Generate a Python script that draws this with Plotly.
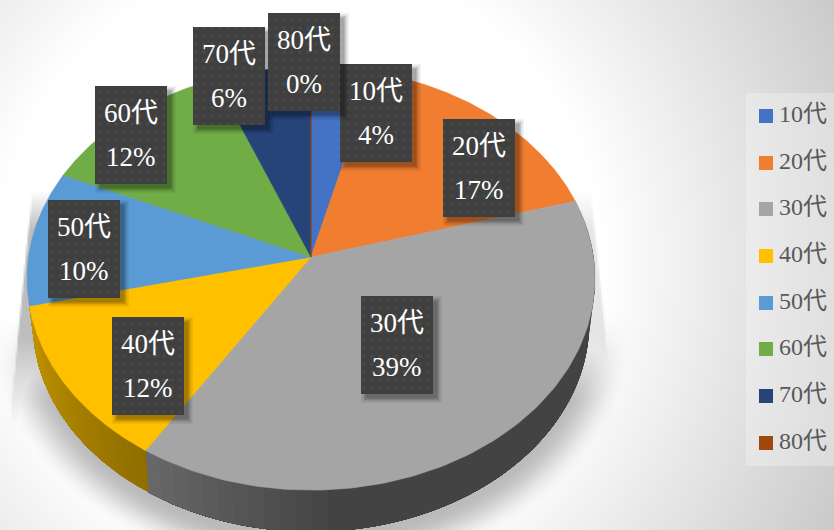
import numpy as np
import plotly.graph_objects as go

# Survey share by age group
categories = ["10代", "20代", "30代", "40代", "50代", "60代", "70代", "80代"]
percents = [4, 17, 39, 12, 10, 12, 6, 0]
colors = ["#4472C4", "#F07D30", "#A5A5A5", "#FFC000", "#5B9BD5", "#70AD47", "#264478", "#9E480E"]

# Top-left corner of each data label box, in page pixels
label_left = [340, 443, 361, 112, 48, 95, 193, 268]
label_top = [64, 119, 296, 317, 200, 86, 27, 13]
LABEL_W, LABEL_H = 72, 98

legend_y = [116, 163, 209, 256, 303, 349, 396, 443]

W, H = 834, 530
CX, APEX_Y = 311, 257
RX, RY, TILT, SKEW = 282.5, 209.4, 0.1018, 0.07
WALL_DROP, WALL_SX, WALL_SY = 44, 0.98, 0.99


def rim(theta, drop=0.0, sx=1.0, sy=1.0):
    """Project a rim angle (clockwise from 12 o'clock) onto the tilted disc."""
    view = theta - SKEW * (1 - np.cos(theta)) / 2
    w = 1 + TILT * np.cos(view)
    return CX + RX * sx * np.sin(view) / w, APEX_Y + drop - RY * sy * np.cos(view) / w


def backdrop():
    """Grey vignette with the soft shadow cast under the pie."""
    xs = np.arange(0, W + 2, 2.0)
    ys = np.arange(0, H + 2, 2.0)
    gx, gy = np.meshgrid(xs, ys)
    dist = np.hypot(gx - 300, gy - 260)
    base = 255 - np.clip(dist - 300, 0, None) * 0.18

    # Tall wedge of shade on either side of the disc, heavier on the left
    t = np.clip((gy - 200) / 200, 0, 1)
    left = 30 - 20 * t
    right = 592 + 21 * t
    fade = np.clip((gy - 190) / 40, 0, 1) * np.clip((425 - gy) / 90, 0, 1)
    side_l = np.clip((gx - left) / 2, 0, 1) * (gx < CX)
    side_r = np.clip((right - gx) / 2, 0, 1) * (gx >= CX)
    shade_side = (0.26 * side_l + 0.1 * side_r) * fade

    # Blurred ellipse below the wall, only on the lower half of the disc
    q = np.hypot((gx - CX) / 272, (gy - 322) / 214)
    sd = (q - 1) * 240
    u = np.clip(1 - sd / 46, 0, 1)
    shade_round = 0.27 * u * u * (3 - 2 * u) * np.clip((gy - 320) / 80, 0, 1)

    return xs, ys, base * (1 - np.maximum(shade_side, shade_round))


def mix(c0, c1, f):
    a = np.array([int(c0[i:i + 2], 16) for i in (1, 3, 5)])
    b = np.array([int(c1[i:i + 2], 16) for i in (1, 3, 5)])
    r, g, bl = np.round(a + (b - a) * f).astype(int)
    return f"rgb({r},{g},{bl})"


def polygon(fig, xs, ys, color, line=0.6, **extra):
    fig.add_trace(go.Scatter(
        x=xs, y=ys, mode="lines", fill="toself", fillcolor=color,
        line=dict(color=color, width=line), hoverinfo="skip", showlegend=False, **extra))


fig = go.Figure()

bg_x, bg_y, bg_z = backdrop()
fig.add_trace(go.Heatmap(
    x=bg_x, y=bg_y, z=bg_z, zmin=0, zmax=255, zsmooth="best",
    colorscale=[[0, "#000000"], [1, "#ffffff"]], showscale=False, hoverinfo="skip"))

edges = np.radians(np.cumsum([0] + percents) * 3.6)

# Front wall of the disc: each strip runs to the far end so no seams show
wall_ramps = {2: ("#434343", "#686868", 0.74, 1.0), 3: ("#8f6e00", "#c49500", 0.0, 1.0)}
for idx, (c_a, c_b, f0, f1) in wall_ramps.items():
    steps = 48
    th = np.linspace(edges[idx], edges[idx + 1], steps + 1)
    for s in range(steps):
        f = (s + 0.5) / steps
        k = np.clip((f - f0) / (f1 - f0), 0, 1) if idx == 2 else f
        seg = np.linspace(th[s], edges[idx + 1], 80)
        tx, ty = rim(seg)
        bx, by = rim(seg, WALL_DROP, WALL_SX, WALL_SY)
        polygon(fig, np.r_[tx, bx[::-1]], np.r_[ty, by[::-1]], mix(c_a, c_b, k), line=0)

# Top faces of the slices
for i, color in enumerate(colors):
    th = np.linspace(edges[i], edges[i + 1], 120)
    rx_, ry_ = rim(th)
    polygon(fig, np.r_[CX, rx_, CX], np.r_[APEX_Y, ry_, APEX_Y], color)

# Data label boxes with a stacked soft shadow
annotations = []
for cat, pct, lx, ly in zip(categories, percents, label_left, label_top):
    for grow, alpha in ((5, 0.05), (3.5, 0.08), (2, 0.11), (0.5, 0.16)):
        sx0, sx1 = lx + 5 - grow, lx + LABEL_W + 4 + grow
        sy0, sy1 = ly + 5 - grow, ly + LABEL_H + 4 + grow
        polygon(fig, [sx0, sx1, sx1, sx0, sx0], [sy0, sy0, sy1, sy1, sy0],
                f"rgba(0,0,0,{alpha})", line=0)
    bx = [lx, lx + LABEL_W, lx + LABEL_W, lx, lx]
    by = [ly, ly, ly + LABEL_H, ly + LABEL_H, ly]
    polygon(fig, bx, by, "#3f3f3f", line=0,
            fillpattern=dict(shape=".", size=8, solidity=0.15, fgcolor="#515151", bgcolor="#3f3f3f"))
    for text, dy in ((cat, 27), (f"{pct}%", 71)):
        annotations.append(dict(
            x=lx + LABEL_W / 2, y=ly + dy, text=text, showarrow=False,
            xanchor="center", yanchor="middle",
            font=dict(size=27, color="#ffffff", family="Liberation Serif, Noto Sans CJK JP")))

# Legend panel and entries
polygon(fig, [746, 834, 834, 746, 746], [93, 93, 466, 466, 93], "rgba(255,255,255,0.28)", line=0)
fig.add_trace(go.Scatter(
    x=[766] * len(categories), y=legend_y, mode="markers",
    marker=dict(symbol="square", size=14, color=colors, line=dict(width=0)),
    hoverinfo="skip", showlegend=False))
for cat, ly in zip(categories, legend_y):
    annotations.append(dict(
        x=777, y=ly - 2, text=cat, showarrow=False, xanchor="left", yanchor="middle",
        font=dict(size=24, color="#595959", family="Liberation Serif, Noto Sans CJK JP")))

fig.update_layout(
    width=W, height=H, autosize=False, margin=dict(l=0, r=0, t=0, b=0),
    paper_bgcolor="#ffffff", plot_bgcolor="#ffffff", showlegend=False,
    xaxis=dict(range=[0, W], visible=False, fixedrange=True),
    yaxis=dict(range=[H, 0], visible=False, fixedrange=True),
    annotations=annotations)

fig.write_html("out.html", config=dict(displayModeBar=False))
